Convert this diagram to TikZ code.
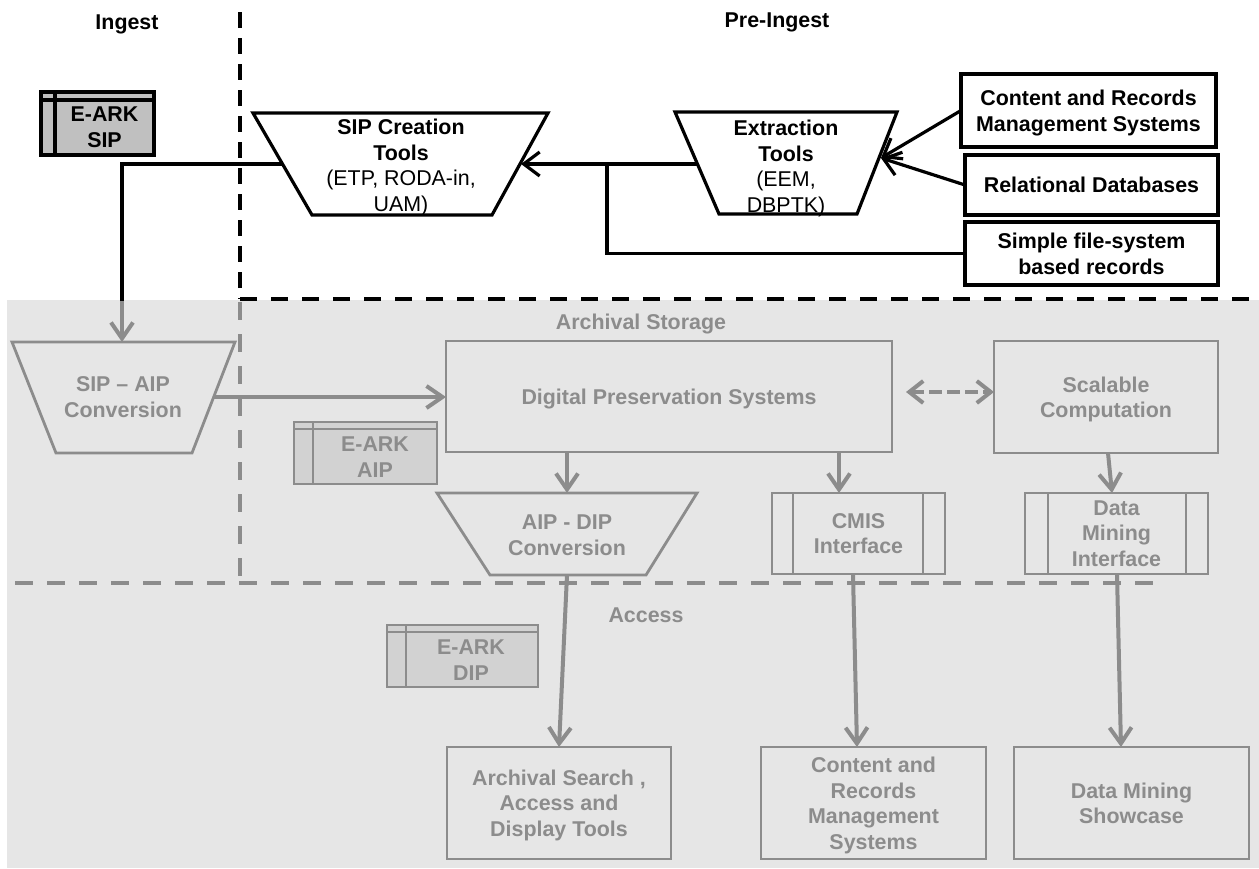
\documentclass[tikz,border=0pt]{standalone}
\usepackage{fontspec}
\setmainfont{Liberation Sans}
\usetikzlibrary{arrows.meta,calc}
\definecolor{gline}{RGB}{140,140,140}
\definecolor{gtext}{RGB}{140,140,140}
\definecolor{gbg}{RGB}{230,230,230}
\definecolor{pkgfillA}{RGB}{192,192,192}
\definecolor{pkgfillB}{RGB}{210,210,210}
\begin{document}
\begin{tikzpicture}[x=0.5pt,y=-0.5pt,
  every node/.style={font=\fontsize{10.7}{12.75}\selectfont\bfseries, align=center, inner sep=0pt, outer sep=0pt, text depth=0pt},
  bbox/.style={draw=black, line width=1.6pt, fill=white},
  gbox/.style={draw=gline, line width=1.4pt, text=gtext},
  btrap/.style={draw=black, line width=1.6pt, fill=white},
  gtrap/.style={draw=gline, line width=1.4pt},
  blink/.style={draw=black, line width=1.6pt},
  barrow/.style={blink, -{Straight Barb[length=8pt,width=12pt]}},
  garrow/.style={draw=gline, line width=2pt, -{Straight Barb[length=8pt,width=11pt]}},
  gdarrow/.style={draw=gline, line width=2pt, dash pattern=on 6.5pt off 2.5pt, {Straight Barb[length=7pt,width=11pt]}-{Straight Barb[length=7pt,width=11pt]}},
  bdash/.style={draw=black, line width=1.8pt, dash pattern=on 8pt off 5pt},
  bdashh/.style={draw=black, line width=1.8pt, dash pattern=on 8.5pt off 7pt},
  gdash/.style={draw=gline, line width=1.8pt, dash pattern=on 9pt off 7pt},
  pkgA/.style={draw=black, line width=1.6pt, fill=pkgfillA},
  pkgB/.style={draw=gline, line width=1.4pt, fill=pkgfillB},
  gtxt/.style={text=gtext}
]
\useasboundingbox (0,0) rectangle (1259,868);
% background zone
\fill[gbg] (7,300) rectangle (1259,868);
% zone separators
\draw[bdash] (240,12) -- (240,299);
\draw[bdashh] (240,299) -- (1252,299);
\draw[gdash] (240,302) -- (240,583);
\draw[gdash] (15,583) -- (1162,583);
% zone labels
\node (ingest) at (127,22) {Ingest};
\node (preingest) at (777,20) {Pre-Ingest};
\node[gtxt] (archst) at (641,322) {Archival Storage};
\node[gtxt] (access) at (646,615) {Access};

% ---------- Pre-ingest ----------
\node[bbox, minimum width=127.5pt, minimum height=36.5pt] (crms) at (1088.5,110.5) {Content and Records\\Management Systems};
\node[bbox, minimum width=126.5pt, minimum height=30pt] (rdb) at (1091.5,185) {Relational Databases};
\node[bbox, minimum width=126.5pt, minimum height=31.5pt] (sfs) at (1091.5,253.5) {Simple file-system\\based records};

\draw[btrap] (675,112) -- (897,112) -- (857,214) -- (719,214) -- cycle;
\node (extr) at (786,166) {Extraction\\Tools\\{\mdseries (EEM,}\\{\mdseries DBPTK)}};
\coordinate (extr-l) at (697,164);
\coordinate (extr-r) at (881,158);

\draw[btrap] (253,113) -- (548,113) -- (492,215) -- (312,215) -- cycle;
\node (sipc) at (401,165) {SIP Creation\\Tools\\{\mdseries (ETP, RODA-in,}\\{\mdseries UAM)}};
\coordinate (sipc-l) at (282,164);
\coordinate (sipc-r) at (521,164);

\node[pkgA, minimum width=56.5pt, minimum height=31.5pt] (sip) at (97.5,123.5) {};
\draw[line width=1.6pt] ($(sip.north west)+(14,0)$) -- ($(sip.south west)+(14,0)$);
\draw[line width=1.6pt] ($(sip.north west)+(0,8)$) -- ($(sip.north east)+(0,8)$);
\node (siptxt) at (104.5,127) {E-ARK\\SIP};

\draw[barrow] (crms.west) -- (extr-r);
\draw[barrow] (rdb.west) -- (extr-r);
\draw[barrow] (extr-l) -- (sipc-r);
\coordinate (jn) at (607,164);
\draw[blink] (sfs.west) -| (jn);

\coordinate (bend1) at (122,164);
\coordinate (zoneb) at (122,301);
\draw[blink] (sipc-l) -- (bend1) -- (zoneb);

% ---------- Archival storage ----------
\draw[gtrap] (12,342) -- (235,342) -- (192,453) -- (56,453) -- cycle;
\node[gtxt] (sipaip) at (123,397) {SIP – AIP\\Conversion};
\coordinate (sipaip-t) at (122,342);
\coordinate (sipaip-r) at (214,397);
\draw[garrow] (zoneb) -- (sipaip-t);

\node[gbox, minimum width=223pt, minimum height=55.5pt] (dps) at (669,396.5) {Digital Preservation Systems};
\node[gbox, minimum width=112pt, minimum height=56pt] (scal) at (1106,397) {Scalable\\Computation};
\draw[garrow] (sipaip-r) -- (sipaip-r -| dps.west);
\coordinate (dd1) at (906,392);
\draw[gdarrow] (dd1) -- (dd1 -| scal.west);

\node[pkgB, minimum width=71.5pt, minimum height=31pt] (aip) at (365.5,453) {};
\draw[draw=gline, line width=1.4pt] ($(aip.north west)+(19,0)$) -- ($(aip.south west)+(19,0)$);
\draw[draw=gline, line width=1.4pt] ($(aip.north west)+(0,7)$) -- ($(aip.north east)+(0,7)$);
\node[gtxt] (aiptxt) at (375,457) {E-ARK\\AIP};

\draw[gtrap] (437,493) -- (697,493) -- (646,575) -- (490,575) -- cycle;
\node[gtxt] (aipdip) at (567,535) {AIP - DIP\\Conversion};
\coordinate (aipdip-t) at (567,493);
\coordinate (aipdip-b) at (567,575);
\draw[garrow] (dps.south -| aipdip-t) -- (aipdip-t);

\node[gbox, minimum width=86.5pt, minimum height=40.5pt] (cmis) at (858.5,533.5) {CMIS\\Interface};
\draw[draw=gline, line width=1.4pt] ($(cmis.north west)+(21,0)$) -- ($(cmis.south west)+(21,0)$);
\draw[draw=gline, line width=1.4pt] ($(cmis.north east)+(-22,0)$) -- ($(cmis.south east)+(-22,0)$);
\coordinate (cmis-t) at (839,493);
\draw[garrow] (dps.south -| cmis-t) -- (cmis-t);

\node[gbox, minimum width=91.5pt, minimum height=40.5pt] (dmi) at (1116.5,533.5) {Data\\Mining\\Interface};
\draw[draw=gline, line width=1.4pt] ($(dmi.north west)+(23,0)$) -- ($(dmi.south west)+(23,0)$);
\draw[draw=gline, line width=1.4pt] ($(dmi.north east)+(-22,0)$) -- ($(dmi.south east)+(-22,0)$);
\coordinate (scal-b) at (1108,453);
\coordinate (dmi-t) at (1112,493);
\draw[garrow] (scal-b) -- (dmi-t);

% ---------- Access ----------
\node[pkgB, minimum width=75.5pt, minimum height=31pt] (dip) at (462.5,656) {};
\draw[draw=gline, line width=1.4pt] ($(dip.north west)+(19,0)$) -- ($(dip.south west)+(19,0)$);
\draw[draw=gline, line width=1.4pt] ($(dip.north west)+(0,7)$) -- ($(dip.north east)+(0,7)$);
\node[gtxt] (diptxt) at (471,660) {E-ARK\\DIP};

\node[gbox, minimum width=112pt, minimum height=56pt] (asearch) at (559,803) {Archival Search ,\\Access and\\Display Tools};
\node[gbox, minimum width=112.5pt, minimum height=56pt] (crmsb) at (873.5,803) {Content and\\Records\\Management\\Systems};
\node[gbox, minimum width=117.5pt, minimum height=56pt] (dms) at (1131.5,803) {Data Mining\\Showcase};

\coordinate (cmis-b) at (853,574);
\coordinate (crmsb-t) at (857,747);
\coordinate (dmi-b) at (1117,574);
\coordinate (dms-t) at (1121,747);
\draw[garrow] (aipdip-b) -- (asearch.north);
\draw[garrow] (cmis-b) -- (crmsb-t);
\draw[garrow] (dmi-b) -- (dms-t);
\end{tikzpicture}
\end{document}
